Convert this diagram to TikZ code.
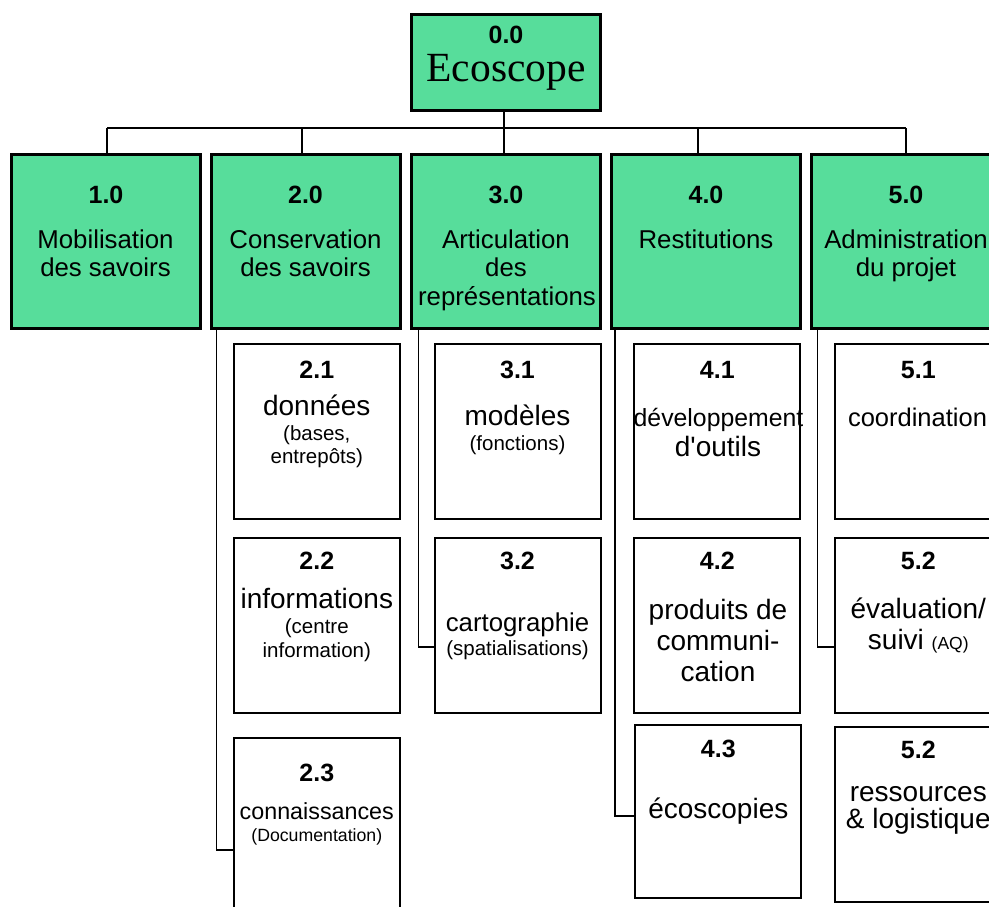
\documentclass[tikz,border=0pt]{standalone}
\usepackage{fontspec}
\setmainfont{Liberation Sans}[Ligatures=TeXOff]
\newfontfamily\ecoserif{Liberation Serif}
\definecolor{ecogreen}{RGB}{87,221,155}
\begin{document}
\begin{tikzpicture}[x=1pt,y=-1pt,
  topbox/.style={draw, line width=3pt, fill=ecogreen, minimum width=189pt, minimum height=96pt, inner sep=0pt},
  lonebox/.style={draw, line width=3pt, fill=ecogreen, minimum width=189pt, minimum height=174pt, inner sep=0pt},
  subbox/.style={draw, line width=2pt, fill=white, minimum width=166pt, minimum height=175pt, inner sep=0pt},
  conn/.style={line width=1.8pt},
  txt/.style={anchor=base, inner sep=0pt},
  num/.style={txt, font=\bfseries\fontsize{25}{25}\selectfont},
  lone/.style={txt, font=\fontsize{25.8}{25.8}\selectfont},
  main/.style={txt, font=\fontsize{28}{28}\selectfont},
  sub/.style={txt, font=\fontsize{20.5}{20.5}\selectfont}]
\useasboundingbox (0,0) rectangle (989,906);
\clip (0,0) rectangle (989,906);

% root
\node[topbox] (top) at (506,62) {};
\node[num] (t0a) at (506,43.3) {0.0};
\node[txt, font=\ecoserif\fontsize{41.5}{41.5}\selectfont] (t0b) at (506,81.7) {Ecoscope};

% first level
\node[lonebox] (b1) at (105.5,241) {};
\node[lonebox] (b2) at (305.5,241) {};
\node[lonebox] (b3) at (506,241) {};
\node[lonebox] (b4) at (706,241) {};
\node[lonebox] (b5) at (906,241) {};

\node[num] (t1a) at (106,203.3) {1.0};
\node[lone] (t1b) at (105.5,248.3) {Mobilisation};
\node[lone] (t1c) at (105.5,276.7) {des savoirs};

\node[num] (t2a) at (305.5,203.3) {2.0};
\node[lone] (t2b) at (305.5,248.3) {Conservation};
\node[lone] (t2c) at (305.5,276.7) {des savoirs};

\node[num] (t3a) at (506,203.3) {3.0};
\node[lone] (t3b) at (506,248.3) {Articulation};
\node[lone] (t3c) at (506,276.7) {des};
\node[lone] (t3d) at (507,305.2) {représentations};

\node[num] (t4a) at (706,203.3) {4.0};
\node[lone] (t4b) at (706,248.3) {Restitutions};

\node[num] (t5a) at (906,203.3) {5.0};
\node[lone] (t5b) at (906,248.3) {Administration};
\node[lone] (t5c) at (906,276.7) {du projet};

% second level
\node[subbox] (b21) at (316.8,431.7) {};
\node[subbox] (b22) at (316.8,625.2) {};
\node[subbox] (b23) at (316.8,825) {};
\node[subbox] (b31) at (517.5,431.8) {};
\node[subbox] (b32) at (517.5,625.2) {};
\node[subbox] (b41) at (717.3,431.8) {};
\node[subbox] (b42) at (717.3,625.2) {};
\node[subbox, minimum height=172.4pt] (b43) at (718.3,811.5) {};
\node[subbox] (b51) at (918.3,431.8) {};
\node[subbox] (b52) at (918.3,625.2) {};
\node[subbox] (b53) at (918.3,814.3) {};

\node[num] (t21a) at (316.8,378.3) {2.1};
\node[main] (t21b) at (316.8,415.7) {données};
\node[sub] (t21c) at (316.8,440.7) {(bases,};
\node[sub] (t21d) at (316.8,463.3) {entrepôts)};

\node[num] (t22a) at (316.8,569.3) {2.2};
\node[main] (t22b) at (316.8,608.3) {informations};
\node[sub] (t22c) at (316.8,633.3) {(centre};
\node[sub] (t22d) at (316.8,657.7) {information)};

\node[num] (t23a) at (316.8,781) {2.3};
\node[txt, font=\fontsize{23.3}{23.3}\selectfont] (t23b) at (316.8,819.3) {connaissances};
\node[txt, font=\fontsize{17.7}{17.7}\selectfont] (t23c) at (316.8,841.7) {(Documentation)};

\node[num] (t31a) at (517.5,378.3) {3.1};
\node[main] (t31b) at (517.5,425.7) {modèles};
\node[sub] (t31c) at (517.5,450.7) {(fonctions)};

\node[num] (t32a) at (517.5,569.3) {3.2};
\node[txt, font=\fontsize{25.8}{25.8}\selectfont] (t32b) at (517.5,631.7) {cartographie};
\node[sub] (t32c) at (517.5,655) {(spatialisations)};

\node[num] (t41a) at (717.3,378.3) {4.1};
\node[txt, font=\fontsize{24.8}{24.8}\selectfont] (t41b) at (718.5,426) {développement};
\node[main] (t41c) at (718,456) {d'outils};

\node[num] (t42a) at (717.3,569.3) {4.2};
\node[main] (t42b) at (718,619.3) {produits de};
\node[main] (t42c) at (718,650) {communi-};
\node[main] (t42d) at (718,681.7) {cation};

\node[num] (t43a) at (718.3,757.7) {4.3};
\node[main] (t43b) at (718.3,818.3) {écoscopies};

\node[num] (t51a) at (918.3,378.3) {5.1};
\node[txt, font=\fontsize{25.5}{25.5}\selectfont] (t51b) at (917.5,426.7) {coordination};

\node[num] (t52a) at (918.3,569.3) {5.2};
\node[main] (t52b) at (918.3,618.3) {évaluation/};
\node[main] (t52c) at (918.3,649.3) {suivi {\fontsize{17.5}{17.5}\selectfont (AQ)}};

\node[num] (t53a) at (918.3,758) {5.2};
\node[main] (t53b) at (918.3,801) {ressources};
\node[main] (t53c) at (918.3,828.3) {\& logistique};

% connectors: root to first level
\coordinate (busL) at (107,128.3);
\coordinate (busR) at (906,128.3);
\draw[conn] (busL) -- (busR);
\draw[conn] ([xshift=-2pt]top.south) -- ([xshift=-2pt]top.south |- busL);
\draw[conn] (busL) -- ([xshift=1.5pt]b1.north);
\draw[conn] ([xshift=-3.5pt]b2.north |- busL) -- ([xshift=-3.5pt]b2.north);
\draw[conn] ([xshift=-2pt]b3.north |- busL) -- ([xshift=-2pt]b3.north);
\draw[conn] ([xshift=-8pt]b4.north |- busL) -- ([xshift=-8pt]b4.north);
\draw[conn] (busR) -- (b5.north);

% connectors: first level to sub-tasks
\draw[conn] ([xshift=7pt]b2.south west) |- ([yshift=-25pt]b23.west);
\draw[conn] ([xshift=8.5pt]b3.south west) |- ([yshift=-21.5pt]b32.west);
\draw[conn] ([xshift=5pt]b4.south west) |- ([yshift=-4.5pt]b43.west);
\draw[conn] ([xshift=7.5pt]b5.south west) |- ([yshift=-21.5pt]b52.west);
\end{tikzpicture}
\end{document}
